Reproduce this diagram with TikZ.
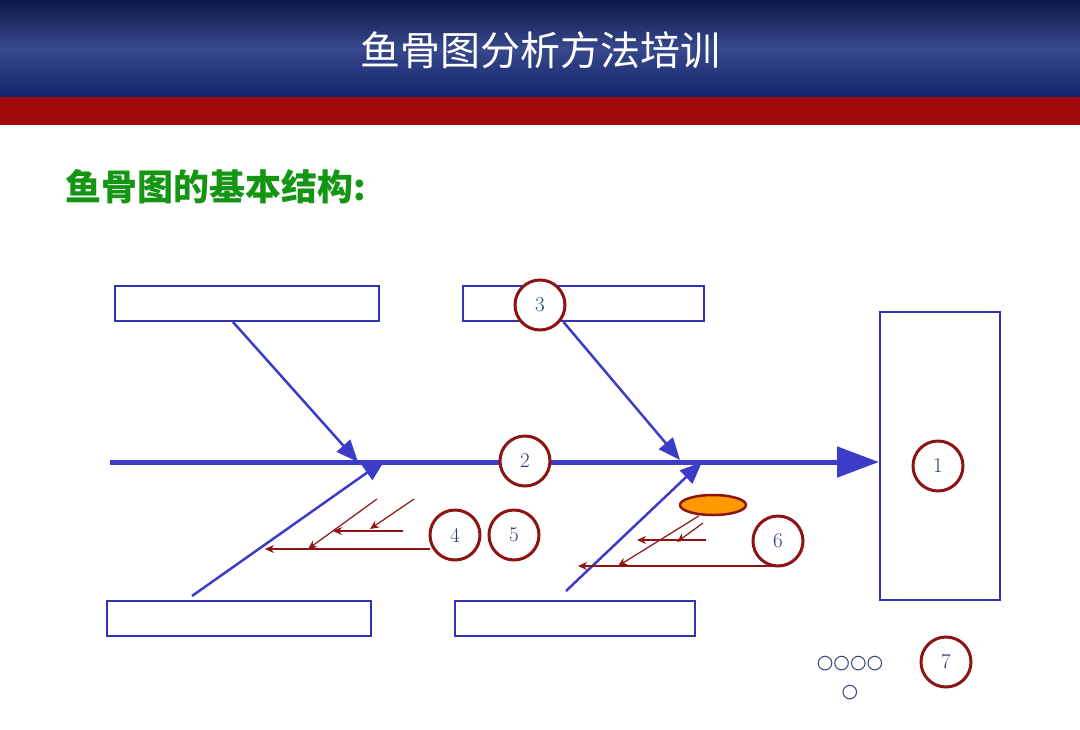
\documentclass[tikz,border=0pt]{standalone}
\usepackage{fontspec}
\newfontfamily\cjk{Noto Sans CJK SC}
\newfontfamily\sym{DejaVu Sans}
\usetikzlibrary{positioning,arrows.meta,shapes.geometric}
\definecolor{bonecol}{RGB}{60,60,200}
\definecolor{boxcol}{RGB}{50,50,180}
\definecolor{redcol}{RGB}{140,20,20}
\definecolor{numcol}{RGB}{40,60,110}
\definecolor{headblue}{RGB}{20,40,120}
\definecolor{bandred}{RGB}{160,10,10}
\definecolor{subgreen}{RGB}{20,150,20}
\tikzset{
  box/.style={draw=boxcol,line width=2pt},
  bone/.style={draw=bonecol,line width=2.5pt,-{Triangle[length=22pt,width=18pt]}},
  twig/.style={draw=redcol,line width=1.2pt,-{Stealth[length=9pt,width=8pt]}},
  num/.style={circle,draw=redcol,line width=3pt,minimum size=50pt,inner sep=0pt,
    text=numcol,font=\fontsize{21}{24}\selectfont}
}
\begin{document}
\begin{tikzpicture}[x=1pt,y=-1pt]
	\useasboundingbox (0,0) rectangle (1080,729);
	% header
	\shade[top color=headblue!60!black,bottom color=headblue!90!black,middle color=headblue!85!white] (0,0) rectangle (1080,97);
	\fill[bandred] (0,97) rectangle (1080,125);
	\node[text=white,font=\cjk\fontsize{40}{44}\selectfont] (title) at (540,50) {鱼骨图分析方法培训};
	\node[anchor=west,text=subgreen,font=\cjk\bfseries\fontsize{36}{40}\selectfont] (sub) at (62,187) {鱼骨图的基本结构:};

	% boxes
	\node[box,minimum width=264pt,minimum height=35pt] (tl) at (247,303.5) {};
	\node[box,minimum width=241pt,minimum height=35pt] (tm) at (583.5,303.5) {};
	\node[box,minimum width=264pt,minimum height=35pt] (bl) at (239,618.5) {};
	\node[box,minimum width=240pt,minimum height=35pt] (bm) at (575,618.5) {};
	\node[box,minimum width=120pt,minimum height=288pt] (head) at (940,456) {};

	% bone ends
	\coordinate (tail) at (110,462);
	\coordinate (j1) at (358,462);
	\coordinate (j2) at (385,460);
	\coordinate (j3) at (680,460);
	\coordinate (j4) at (702,462);
	\coordinate (bl_end) at (192,596);
	\coordinate (bm_end) at (566,591);

	% bones
	\draw[bone,line width=5pt,-{Triangle[length=42pt,width=30pt]}] (tail) -- (tail -| head.west);
	\draw[bone] (tl.south) ++(-14,0) coordinate (tl_s) (tl_s) -- (j1);
	\draw[bone] (bl_end) -- (j2);
	\draw[bone] (tm.south) ++(-20,0) coordinate (tm_s) (tm_s) -- (j3);
	\draw[bone] (bm_end) -- (j4);

	% twigs, left
	\coordinate (a1) at (377,499); \coordinate (a2) at (308,549);
	\coordinate (b1) at (414,499); \coordinate (b2) at (370,529);
	\coordinate (c1) at (403,531); \coordinate (c2) at (333,531);
	\coordinate (d1) at (430,549); \coordinate (d2) at (265,549);
	\draw[twig] (a1) -- (a2);
	\draw[twig] (b1) -- (b2);
	\draw[twig] (c1) -- (c2);
	\draw[twig] (d1) -- (d2);

	% twigs, right
	\node[ellipse,draw=redcol,fill=orange!80!yellow,line width=2.5pt,minimum width=66pt,minimum height=20pt] (cause) at (713,505) {};
	\coordinate (e2) at (618,566);
	\coordinate (f1) at (706,540); \coordinate (f2) at (637,540);
	\coordinate (g1) at (703,523); \coordinate (g2) at (677,542);
	\coordinate (h1) at (777,566); \coordinate (h2) at (578,566);
	\draw[twig] (cause.south west) ++(10,3) coordinate (e1) (e1) -- (e2);
	\draw[twig] (f1) -- (f2);
	\draw[twig] (g1) -- (g2);
	\draw[twig] (h1) -- (h2);

	% numbers
	\node[num] (n1) at (938,466) {1};
	\node[num,fill=white] (n2) at (525,461) {2};
	\node[num,fill=white] (n3) at (540,305) {3};
	\node[num] (n4) at (455,535) {4};
	\node[num] (n5) at (514,535) {5};
	\node[num,fill=white] (n6) at (778,541) {6};
	\node[num] (n7) at (946,662) {7};

	% placeholders
	\node[text=numcol,font=\sym\fontsize{19}{29}\selectfont,align=center] (dots) at (850,678) {○○○○\\○};
\end{tikzpicture}
\end{document}
